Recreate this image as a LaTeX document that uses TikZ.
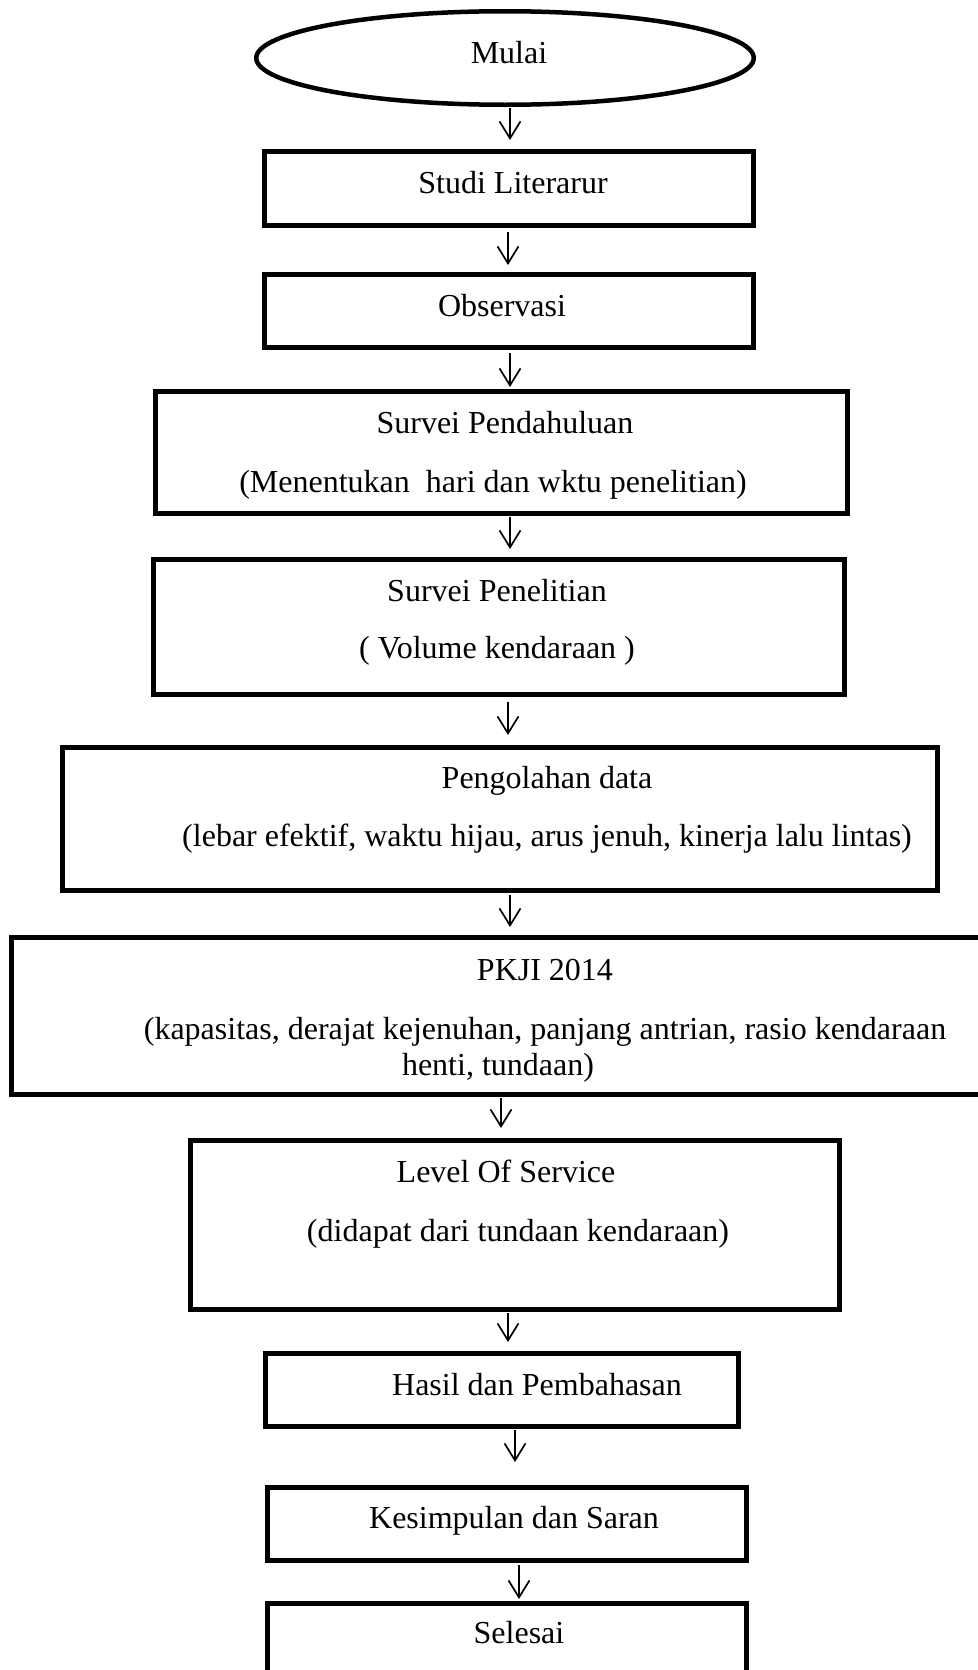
\documentclass[tikz,border=0pt]{standalone}
\usepackage{fontspec}
\setmainfont{Liberation Serif}
\usetikzlibrary{shapes.geometric,arrows.meta,calc}
\begin{document}
\begin{tikzpicture}[x=0.5pt,y=-0.5pt,
  box/.style={draw=black,line width=2.5pt,rectangle,inner sep=0pt,fill=none},
  oval/.style={draw=black,line width=2.25pt,ellipse,inner sep=0pt},
  txt/.style={anchor=base,inner sep=0pt,font=\fontsize{16}{19}\selectfont},
  arr/.style={draw=black,line width=0.85pt,-{Straight Barb[length=8.5pt,width=10.5pt,line width=0.85pt]}}]
\useasboundingbox (0,0) rectangle (978,1670);
\fill[white] (0,0) rectangle (978,1670);
% shapes
\node[oval,minimum width=248.75pt,minimum height=46.75pt] (ell) at (505,58) {};
\node[box,minimum width=244.5pt,minimum height=37pt] (st) at (509,188.5) {};
\node[box,minimum width=244.5pt,minimum height=36.5pt] (ob) at (509,311) {};
\node[box,minimum width=346pt,minimum height=61pt] (sp) at (501.5,452.5) {};
\node[box,minimum width=345.5pt,minimum height=67.5pt] (spn) at (499,627) {};
\node[box,minimum width=437.5pt,minimum height=71.5pt] (pd) at (500,819) {};
\node[box,minimum width=498pt,minimum height=78.5pt] (pk) at (509.5,1016) {};
\node[box,minimum width=324.5pt,minimum height=84.5pt] (los) at (515,1225) {};
\node[box,minimum width=236.5pt,minimum height=36.5pt] (hs) at (502,1390) {};
\node[box,minimum width=239.5pt,minimum height=36.5pt] (ks) at (507,1524) {};
\node[box,minimum width=239.5pt,minimum height=57pt] (sl) at (507,1660.5) {};
% texts
\node[txt] (t1) at (509,63) {Mulai};
\node[txt] (t2) at (513,193) {Studi Literarur};
\node[txt] (t3) at (502,316) {Observasi};
\node[txt] (t4) at (505,433) {Survei Pendahuluan};
\node[txt] (t5) at (493,492) {(Menentukan\ \ hari dan wktu penelitian)};
\node[txt] (t6) at (497,601) {Survei Penelitian};
\node[txt] (t7) at (497,658) {(\ Volume kendaraan\ )};
\node[txt] (t8) at (547,788) {Pengolahan data};
\node[txt] (t9) at (547,846) {(lebar efektif, waktu hijau, arus jenuh, kinerja lalu lintas)};
\node[txt] (t10) at (545,980) {PKJI 2014};
\node[txt] (t11) at (545,1039) {(kapasitas, derajat kejenuhan, panjang antrian, rasio kendaraan};
\node[txt] (t12) at (498,1075) {henti, tundaan)};
\node[txt] (t13) at (506,1182) {Level Of Service};
\node[txt] (t14) at (518,1241) {(didapat dari tundaan kendaraan)};
\node[txt] (t15) at (537,1395) {Hasil dan Pembahasan};
\node[txt] (t16) at (514,1528) {Kesimpulan dan Saran};
\node[txt] (t17) at (519,1643) {Selesai};
% connectors
\draw[arr] ($(ell.south -| 510,0)+(0,1)$) -- ($(st.north -| 510,0)+(0,-9)$);
\draw[arr] ($(st.south -| 508,0)+(0,4)$) -- ($(ob.north -| 508,0)+(0,-7)$);
\draw[arr] ($(ob.south -| 510,0)+(0,3)$) -- ($(sp.north -| 510,0)+(0,-2)$);
\draw[arr] ($(sp.south -| 510,0)+(0,1)$) -- ($(spn.north -| 510,0)+(0,-8)$);
\draw[arr] ($(spn.south -| 508,0)+(0,5)$) -- ($(pd.north -| 508,0)+(0,-10)$);
\draw[arr] ($(pd.south -| 510,0)+(0,2)$) -- ($(pk.north -| 510,0)+(0,-8)$);
\draw[arr] ($(pk.south -| 501,0)+(0,1)$) -- ($(los.north -| 501,0)+(0,-10)$);
\draw[arr] ($(los.south -| 508,0)+(0,1)$) -- ($(hs.north -| 508,0)+(0,-9)$);
\draw[arr] ($(hs.south -| 515,0)+(0,1)$) -- ($(ks.north -| 515,0)+(0,-23)$);
\draw[arr] ($(ks.south -| 519,0)+(0,2)$) -- ($(sl.north -| 519,0)+(0,-2)$);
\end{tikzpicture}
\end{document}
